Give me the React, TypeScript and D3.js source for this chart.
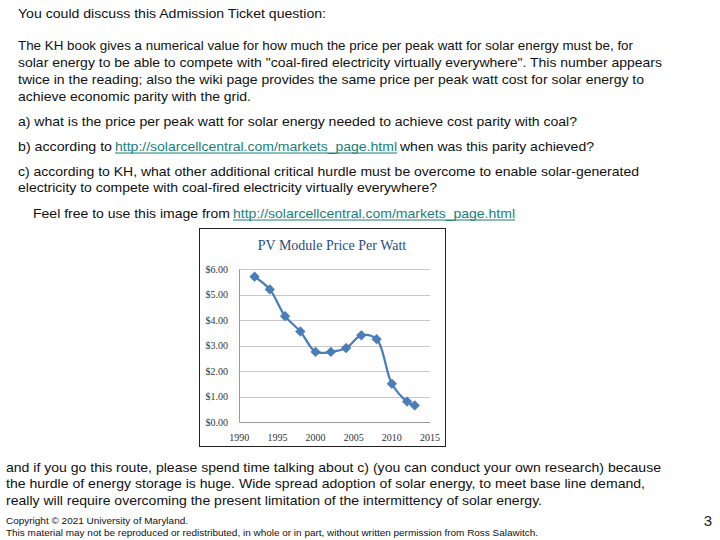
import React from 'react';
import * as d3 from 'd3';

const years = [1992, 1994, 1996, 1998, 2000, 2002, 2004, 2006, 2008, 2010, 2012, 2013];
const prices = [5.7, 5.2, 4.15, 3.55, 2.75, 2.75, 2.9, 3.4, 3.25, 1.5, 0.8, 0.65];
const yTicks = [0, 1, 2, 3, 4, 5, 6];
const xTicks = [1990, 1995, 2000, 2005, 2010, 2015];
const chartTitle = 'PV Module Price Per Watt';

const URL = 'http://solarcellcentral.com/markets_page.html';

// slide text: [text, x, width, isLink]
const slideLines: { y: number; parts: [string, number, number, boolean?][] }[] = [
  { y: 18, parts: [['You could discuss this Admission Ticket question:', 18, 308]] },
  { y: 50, parts: [['The KH book gives a numerical value for how much the price per peak watt for solar energy must be, for', 18, 615]] },
  { y: 67, parts: [['solar energy to be able to compete with "coal-fired electricity virtually everywhere". This number appears', 18, 644]] },
  { y: 84, parts: [['twice in the reading; also the wiki page provides the same price per peak watt cost for solar energy to', 18, 626]] },
  { y: 101, parts: [['achieve economic parity with the grid.', 18, 233]] },
  { y: 126, parts: [['a) what is the price per peak watt for solar energy needed to achieve cost parity with coal?', 18, 559]] },
  { y: 151, parts: [['b) according to', 18, 94], [URL, 115, 282, true], ['when was this parity achieved?', 400, 194]] },
  { y: 176, parts: [['c) according to KH, what other additional critical hurdle must be overcome to enable solar-generated', 18, 621]] },
  { y: 192, parts: [['electricity to compete with coal-fired electricity virtually everywhere?', 18, 419]] },
  { y: 218, parts: [['Feel free to use this image from', 33, 197], [URL, 233, 282, true]] },
  { y: 472, parts: [['and if you go this route, please spend time talking about c) (you can conduct your own research) because', 6, 655]] },
  { y: 488, parts: [['the hurdle of energy storage is huge. Wide spread adoption of solar energy, to meet base line demand,', 6, 639]] },
  { y: 505, parts: [['really will require overcoming the present limitation of the intermittency of solar energy.', 6, 536]] },
];

const footLines: [string, number, number, number][] = [
  ['Copyright \u00a9 2021 University of Maryland.', 6, 524, 182],
  ['This material may not be reproduced or redistributed, in whole or in part, without written permission from Ross Salawitch.', 6, 536, 532],
];

const App = () => {
  const x = d3.scaleLinear().domain([1990, 2015]).range([239.3, 430]);
  const y = d3.scaleLinear().domain([0, 6]).range([422, 269]);
  const pts = years.map((yr, i) => [yr, prices[i]] as [number, number]);
  const line = d3.line<[number, number]>()
    .x(d => x(d[0]))
    .y(d => y(d[1]))
    .curve(d3.curveCatmullRom.alpha(0.5));
  const diamond = d3.symbol().type(d3.symbolDiamond2).size(60)();
  const blue = '#4A7EBB';
  const serif = '"Liberation Serif", "Times New Roman", serif';

  return (
    <svg width={720} height={540} style={{ position: 'absolute', left: 0, top: 0 }}
      fontFamily='"Liberation Sans", Arial, sans-serif'>
      <rect width={720} height={540} fill="#fff" />
      {slideLines.map((ln, i) =>
        ln.parts.map((p, j) => (
          <g key={`${i}-${j}`}>
            <text x={p[1]} y={ln.y} fontSize={13} fill={p[3] ? '#17807a' : '#111'}
              textLength={p[2]} lengthAdjust="spacingAndGlyphs">{p[0]}</text>
            {p[3] && <line x1={p[1]} x2={p[1] + p[2]} y1={ln.y + 2} y2={ln.y + 2} stroke="#17807a" strokeWidth={1} />}
          </g>
        ))
      )}
      {footLines.map((f, i) => (
        <text key={i} x={f[1]} y={f[2]} fontSize={9} fill="#111" textLength={f[3]} lengthAdjust="spacingAndGlyphs">{f[0]}</text>
      ))}
      <text x={708} y={526} fontSize={15} fill="#222" textAnchor="middle">3</text>

      {/* chart */}
      <rect x={199.5} y={228.5} width={246} height={218} fill="#fff" stroke="#222" strokeWidth={1} />
      <text x={332} y={250} textAnchor="middle" fontFamily={serif} fontSize={14} fill="#2a4d80">{chartTitle}</text>
      {yTicks.map(t => (
        <g key={t}>
          <line x1={x(1990)} x2={x(2015)} y1={Math.round(y(t)) + 0.5} y2={Math.round(y(t)) + 0.5}
            stroke={t === 0 ? '#999' : '#c8c8c8'} />
          <text x={228} y={y(t) + 3.5} textAnchor="end" fontFamily={serif} fontSize={10} fill="#333">
            {d3.format('$.2f')(t)}
          </text>
        </g>
      ))}
      <line x1={Math.round(x(1990)) + 0.5} x2={Math.round(x(1990)) + 0.5} y1={y(6)} y2={y(0)} stroke="#999" />
      {xTicks.map(t => (
        <text key={t} x={x(t)} y={441} textAnchor="middle" fontFamily={serif} fontSize={10} fill="#333">{t}</text>
      ))}
      <path d={line(pts) || ''} fill="none" stroke={blue} strokeWidth={2.25} />
      {pts.map((d, i) => (
        <path key={i} d={diamond || ''} transform={`translate(${x(d[0])},${y(d[1])})`} fill={blue} stroke="#3d6ea8" strokeWidth={0.5} />
      ))}
    </svg>
  );
};

export default App;
